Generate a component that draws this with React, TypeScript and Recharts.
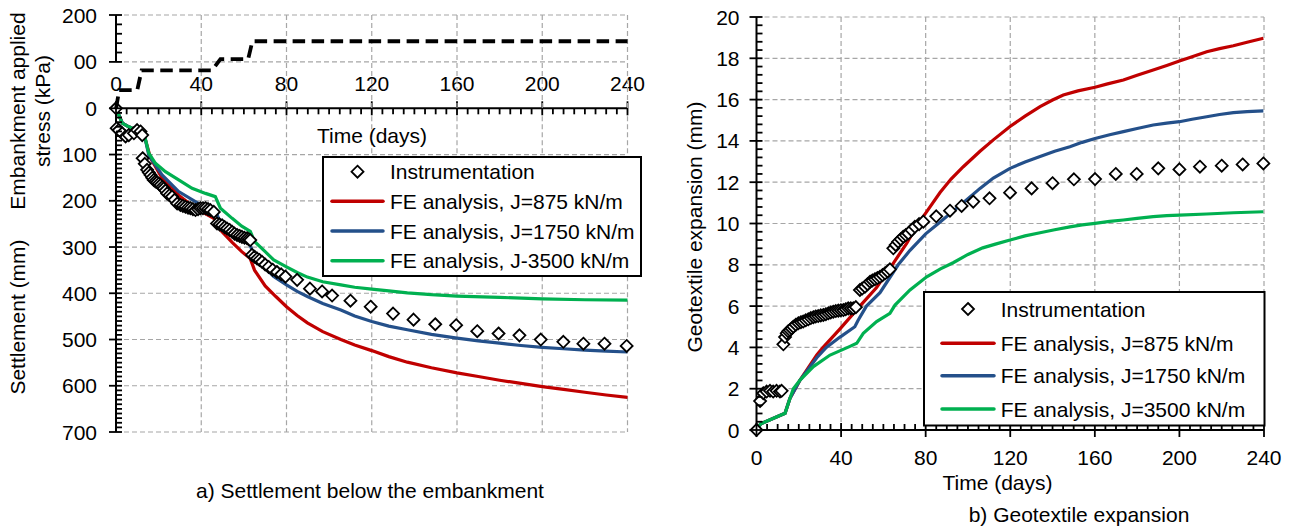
import { LineChart, Line, XAxis, YAxis, CartesianGrid, ReferenceLine } from "recharts";

const FONT = "'Liberation Sans', Arial, Helvetica, sans-serif";
const RED = "#C00000";
const BLUE = "#24508A";
const GREEN = "#00B050";
const GRID = "#A6A6A6";

// ---- time axis (both panels)
const timeMajor = [0, 40, 80, 120, 160, 200, 240];
const timeGrid = [40, 80, 120, 160, 200, 240];

// ---- a) settlement (t days, settlement mm)
const settleMajor = [0, 100, 200, 300, 400, 500, 600, 700];
const settleGrid = [100, 200, 300, 400, 500, 600, 700];
const stressMajor = [100, 200];
const stressLabels = ["00", "200"];

const stressApplied = [
  [0, 0], [1.5, 40], [10, 40], [12, 82], [45, 82], [49, 106], [62, 106], [64, 144], [240, 144],
];

const settleInstr = [
  [0, 0], [0.3, 43], [1.3, 47], [2.9, 54], [4.5, 61], [6, 58], [8.4, 54], [9.9, 47], [11.5, 50], [12.3, 58],
  [12.5, 108], [13.5, 120], [14.6, 133], [15.4, 139], [16.2, 144], [17, 150], [17.7, 155], [18.5, 158],
  [19.3, 160], [20.1, 163], [20.9, 166], [21.7, 170], [22.4, 173], [23.2, 178], [24, 184], [25.1, 188],
  [26.3, 191], [27.5, 198], [28.7, 206], [30.2, 209], [31.4, 211], [32.6, 213], [33.8, 215], [34.9, 216],
  [36.1, 218], [37.3, 220], [38.5, 218], [39.6, 216], [40.8, 216], [42, 216], [43.2, 218], [44.3, 220],
  [45.9, 224], [47.4, 249], [48.6, 251], [49.8, 253], [51, 257], [52.1, 260], [53.3, 263], [54.5, 267],
  [55.6, 271], [56.8, 274], [58, 276], [59.1, 278], [60.3, 280], [61.5, 281], [62.3, 283], [63, 285],
  [63.8, 317], [65, 321], [66.2, 325], [67.3, 328], [68.5, 332], [70, 338], [71.6, 343], [73.5, 349],
  [75.5, 354], [77.5, 359], [79.5, 364], [85, 371], [91, 390], [96.7, 396], [101.4, 405], [110, 416],
  [119.5, 429], [130, 444], [139.6, 457], [149.8, 467], [159.6, 469], [169.5, 482], [179.5, 487],
  [189.3, 491], [199.3, 500], [209.9, 505], [219.3, 509], [229.2, 509], [239.6, 514],
];
const settleJ875 = [
  [0, 0], [3, 32], [6, 40], [10.7, 50], [13.5, 63], [16.2, 108], [21.6, 151], [29.4, 188], [37.3, 216],
  [45.9, 238], [49, 263], [54.5, 290], [59, 310], [63, 325], [65, 350], [70, 384], [75, 407], [80, 429],
  [85, 448], [89.8, 464], [97, 483], [105.5, 500], [112, 512], [120, 524], [128, 537], [136.7, 549],
  [148, 561], [160, 572], [170, 580], [180, 588], [190, 595], [200, 602], [210, 608], [220, 614],
  [230, 620], [240, 625],
];
const settleJ1750 = [
  [0, 0], [3, 32], [6, 40], [10.7, 50], [13.5, 62], [15.4, 102], [21.6, 144], [29.4, 180], [38.8, 206],
  [46.6, 220], [49, 249], [56, 276], [59, 284], [62.5, 292], [65, 318], [70, 345], [74, 364], [80, 382],
  [85, 396], [89.8, 407], [97, 422], [105.5, 436], [112, 449], [120, 461], [128, 471], [136.7, 479],
  [148, 489], [160, 497], [170, 503], [180, 508], [190, 513], [200, 517], [210, 520], [220, 523],
  [230, 525], [240, 527],
];
const settleJ3500 = [
  [0, 0], [2.9, 32], [6, 40], [10.7, 50], [13.5, 61], [15.4, 97], [18.5, 119], [23.2, 137], [29.4, 155],
  [35.7, 173], [42, 184], [46.6, 191], [49, 216], [54.5, 238], [59, 255], [63, 266], [65, 288], [70, 310],
  [74, 328], [80, 343], [85, 355], [89.8, 365], [97, 375], [105.5, 382], [112, 387], [120, 391],
  [128, 395], [136.7, 399], [148, 403], [160, 406], [180, 409], [200, 412], [220, 414], [240, 415],
];
const settleNames = [
  "Instrumentation",
  "FE analysis, J=875 kN/m",
  "FE analysis, J=1750 kN/m",
  "FE analysis, J-3500 kN/m",
];

// ---- b) geotextile expansion (t days, mm)
const expMajor = [0, 2, 4, 6, 8, 10, 12, 14, 16, 18, 20];
const expGrid = [2, 4, 6, 8, 10, 12, 14, 16, 18, 20];

const expInstr = [
  [0, 0], [1.7, 1.4], [3.2, 1.78], [4.8, 1.86], [6.4, 1.9], [7.9, 1.86], [9.5, 1.9], [11.1, 1.86], [11.9, 1.9],
  [12.7, 4.15], [13.5, 4.5], [14.3, 4.68], [15, 4.78], [15.8, 4.84], [16.6, 4.92], [17.4, 5], [18.6, 5.1],
  [19.8, 5.17], [21, 5.22], [22.1, 5.25], [23.3, 5.31], [24.5, 5.36], [25.7, 5.42], [26.9, 5.46], [28, 5.5],
  [29.2, 5.52], [30.4, 5.55], [31.6, 5.57], [32.8, 5.61], [34, 5.65], [35.1, 5.69], [36.3, 5.73], [37.5, 5.76],
  [38.7, 5.78], [39.9, 5.8], [41.1, 5.81], [42.2, 5.85], [43.4, 5.89], [44.6, 5.89], [45.8, 5.89], [47, 5.95],
  [48.9, 6.78], [50, 6.85], [51.3, 6.94], [52.5, 7.06], [53.7, 7.18], [54.8, 7.24], [56, 7.3], [57.2, 7.36],
  [58.4, 7.42], [59.6, 7.5], [60.8, 7.59], [62, 7.68], [63.1, 7.78], [64.7, 8.8], [65.8, 8.96], [67, 9.12],
  [68.2, 9.24], [69.4, 9.36], [70.6, 9.44], [71.8, 9.52], [73.3, 9.68], [74.9, 9.84], [76.9, 9.97],
  [78.9, 10.09], [85, 10.35], [91.5, 10.62], [97, 10.85], [102.5, 11.06], [110.2, 11.22], [119.9, 11.49],
  [130.1, 11.7], [140, 11.95], [150.1, 12.14], [160.1, 12.15], [169.9, 12.4], [179.8, 12.4], [190, 12.67],
  [200, 12.62], [209.7, 12.75], [220, 12.8], [229.9, 12.86], [239.7, 12.91],
];
const expJ875 = [
  [0, 0], [2, 0.3], [13.5, 0.81], [15.8, 1.53], [20.6, 2.42], [28.5, 3.63], [31.5, 4], [39.5, 4.9], [48.9, 6],
  [56.8, 6.9], [64.2, 8], [71, 9.04], [76.5, 10], [80, 10.5], [86.8, 11.5], [92, 12.15], [97.8, 12.75],
  [105.7, 13.5], [112, 14.05], [119.9, 14.7], [127, 15.2], [134.1, 15.66], [140, 15.98], [145.1, 16.22],
  [152, 16.42], [160.1, 16.6], [166, 16.76], [173.5, 16.95], [180, 17.18], [187.6, 17.43], [194, 17.65],
  [200, 17.87], [206, 18.08], [212.9, 18.32], [219, 18.47], [225.5, 18.61], [232, 18.78], [239.7, 18.97],
];
const expJ1750 = [
  [0, 0], [2, 0.3], [13.5, 0.81], [15.8, 1.53], [20.6, 2.42], [28.5, 3.5], [33, 4], [39.5, 4.5], [46.5, 5],
  [48, 5.3], [52, 6], [58.4, 6.65], [67, 8], [72.6, 8.7], [80, 9.5], [86, 10], [93, 10.6], [100, 11.2],
  [105.7, 11.7], [112, 12.2], [119.9, 12.67], [127, 12.98], [134.1, 13.24], [141, 13.5], [148.2, 13.72],
  [154, 13.93], [160.1, 14.12], [167, 14.3], [173.5, 14.45], [180, 14.6], [187.6, 14.77], [194, 14.86],
  [200, 14.93], [206, 15.05], [212.9, 15.17], [219, 15.28], [225.5, 15.37], [232, 15.42], [239.7, 15.45],
];
const expJ3500 = [
  [0, 0], [2, 0.3], [13.5, 0.81], [15.8, 1.53], [17.4, 2], [20.6, 2.42], [26.9, 3.07], [34.8, 3.63],
  [44.2, 4.05], [47.4, 4.2], [50.5, 4.68], [56.8, 5.25], [63.1, 5.65], [65.5, 6.05], [72.6, 6.78],
  [80.5, 7.42], [87, 7.8], [93, 8.1], [100, 8.5], [107, 8.82], [113, 9.0], [119.9, 9.2], [127, 9.4],
  [134.1, 9.55], [141, 9.7], [148.2, 9.84], [154, 9.93], [160.1, 10.01], [167, 10.1], [173.5, 10.17],
  [180, 10.25], [187.6, 10.33], [194, 10.38], [200, 10.41], [212.9, 10.46], [225.5, 10.52], [239.7, 10.57],
];
const expNames = [
  "Instrumentation",
  "FE analysis, J=875 kN/m",
  "FE analysis, J=1750 kN/m",
  "FE analysis, J=3500 kN/m",
];

const lineColors = [RED, BLUE, GREEN];

const pts = (rows: number[][]) => rows.map(([t, v]) => ({ t, v }));
const steps = (from: number, to: number, step: number) => {
  const out: number[] = [];
  const n = Math.round((to - from) / step);
  for (let i = 0; i <= n; i++) out.push(Math.round((from + i * step) * 1000) / 1000);
  return out;
};
const isMajor = (majors: number[], v: number) => majors.some((m) => Math.abs(m - v) < 1e-6);

const txt = { fontFamily: FONT, fontSize: 21, fill: "#000" };

const yTick = (majors: number[], label: (v: number) => string, gap: number) => (p: any) => {
  const { x, y, payload } = p;
  const major = isMajor(majors, payload.value);
  return (
    <g>
      <line x1={major ? x - 7 : x} x2={x + 6} y1={y} y2={y} stroke="#000" strokeWidth={1.8} />
      {major && (
        <text x={x - gap} y={y} textAnchor="end" dominantBaseline="central" {...txt}>
          {label(payload.value)}
        </text>
      )}
    </g>
  );
};

const xTick = (top: boolean, labelDy: number) => (p: any) => {
  const { x, y, payload } = p;
  const major = isMajor(timeMajor, payload.value);
  const inner = top ? 6 : -6;
  return (
    <g>
      <line x1={x} x2={x} y1={major ? y - 7 : y} y2={major ? y + 7 : y + inner} stroke="#000" strokeWidth={1.8} />
      {major && (
        <text x={x} y={y + labelDy} textAnchor="middle" dominantBaseline="central" {...txt}>
          {payload.value}
        </text>
      )}
    </g>
  );
};

const diamond = (p: any) => {
  const { cx, cy, index } = p;
  if (cx == null || cy == null) return <g key={`n${index}`} />;
  const r = 6;
  return (
    <path
      key={`d${index}`}
      d={`M${cx},${cy - r}L${cx + r},${cy}L${cx},${cy + r}L${cx - r},${cy}Z`}
      fill="#fff"
      stroke="#000"
      strokeWidth={1.8}
    />
  );
};

const axisLine = { stroke: "#000", strokeWidth: 2 };

function LegendBox(props: {
  x: number; y: number; w: number; h: number; rows: number[];
  sx1: number; sx2: number; tx: number; names: string[];
}) {
  const { x, y, w, h, rows, sx1, sx2, tx, names } = props;
  const mid = (sx1 + sx2) / 2;
  return (
    <g>
      <rect x={x} y={y} width={w} height={h} fill="#fff" stroke="#000" strokeWidth={2} />
      {names.map((n, i) => (
        <g key={n}>
          {i === 0 ? (
            <path
              d={`M${mid},${rows[i] - 6}L${mid + 6},${rows[i]}L${mid},${rows[i] + 6}L${mid - 6},${rows[i]}Z`}
              fill="#fff"
              stroke="#000"
              strokeWidth={1.8}
            />
          ) : (
            <line x1={sx1} x2={sx2} y1={rows[i]} y2={rows[i]} stroke={lineColors[i - 1]} strokeWidth={3.5} strokeLinecap="round" />
          )}
          <text x={tx} y={rows[i]} dominantBaseline="central" {...txt}>
            {n}
          </text>
        </g>
      ))}
    </g>
  );
}

export default function App() {
  const timeTicks = steps(0, 240, 5);
  const settleTicks = steps(0, 700, 10);
  const stressTicks = steps(100, 200, 20);
  const expTicks = steps(0, 20, 0.4);
  const settleSeries = [settleJ875, settleJ1750, settleJ3500];
  const expSeries = [expJ875, expJ1750, expJ3500];

  return (
    <div style={{ position: "absolute", left: 0, top: 0, width: 1293, height: 531, background: "#fff", fontFamily: FONT }}>
      {/* a) settlement */}
      <div style={{ position: "absolute", left: 0, top: 0 }}>
        <LineChart width={660} height={531} margin={{ top: 78.3, right: 32.5, bottom: 99, left: 56 }}>
          <CartesianGrid stroke={GRID} strokeDasharray="5 3" strokeWidth={1.2} horizontalValues={settleGrid} verticalValues={timeGrid} />
          <XAxis type="number" dataKey="t" domain={[0, 240]} ticks={timeTicks} interval={0} orientation="top" height={30}
            tickSize={0} tickMargin={0} tickLine={false} axisLine={axisLine} tick={xTick(true, -24.6)} />
          <YAxis type="number" domain={[0, 700]} reversed ticks={settleTicks} interval={0} width={60}
            tickSize={0} tickMargin={0} tickLine={false} axisLine={axisLine} tick={yTick(settleMajor, (v) => String(v), 19)} />
          <Line data={pts(settleInstr)} dataKey="v" stroke="none" dot={diamond} isAnimationActive={false} />
          {settleSeries.map((s, i) => (
            <Line key={i} data={pts(s)} dataKey="v" stroke={lineColors[i]} strokeWidth={3.2} dot={false} isAnimationActive={false} />
          ))}
        </LineChart>
      </div>
      {/* applied stress, overlaid */}
      <div style={{ position: "absolute", left: 0, top: 0, pointerEvents: "none" }}>
        <LineChart width={660} height={531} margin={{ top: 15, right: 32.5, bottom: 422.2, left: 56 }}>
          <CartesianGrid stroke={GRID} strokeDasharray="5 3" strokeWidth={1.2} horizontalValues={stressMajor} verticalValues={timeGrid} />
          <XAxis type="number" dataKey="t" domain={[0, 240]} hide />
          <YAxis type="number" domain={[0, 200]} ticks={stressTicks} interval={0} width={60}
            tickSize={0} tickMargin={0} tickLine={false} axisLine={false}
            tick={yTick(stressMajor, (v) => stressLabels[stressMajor.indexOf(v)], 19)} />
          <ReferenceLine segment={[{ x: 0, y: 100 }, { x: 0, y: 200 }]} stroke="#000" strokeWidth={2} />
          <Line data={pts(stressApplied)} dataKey="v" stroke="#000" strokeWidth={3.8} strokeDasharray="12.5 6.5"
            dot={false} isAnimationActive={false} />
        </LineChart>
      </div>

      {/* b) geotextile expansion */}
      <div style={{ position: "absolute", left: 640, top: 0 }}>
        <LineChart width={653} height={531} margin={{ top: 17, right: 29, bottom: 71, left: 56.5 }}>
          <CartesianGrid stroke={GRID} strokeDasharray="5 3" strokeWidth={1.2} horizontalValues={expGrid} verticalValues={timeGrid} />
          <XAxis type="number" dataKey="t" domain={[0, 240]} ticks={timeTicks} interval={0} height={30}
            tickSize={0} tickMargin={0} tickLine={false} axisLine={axisLine} tick={xTick(false, 27)} />
          <YAxis type="number" domain={[0, 20]} ticks={expTicks} interval={0} width={60}
            tickSize={0} tickMargin={0} tickLine={false} axisLine={axisLine} tick={yTick(expMajor, (v) => String(v), 17)} />
          <Line data={pts(expInstr)} dataKey="v" stroke="none" dot={diamond} isAnimationActive={false} />
          {expSeries.map((s, i) => (
            <Line key={i} data={pts(s)} dataKey="v" stroke={lineColors[i]} strokeWidth={3.2} dot={false} isAnimationActive={false} />
          ))}
        </LineChart>
      </div>

      <svg width={1293} height={531} style={{ position: "absolute", left: 0, top: 0, pointerEvents: "none" }}>
        <text transform="translate(17.7,111) rotate(-90)" textAnchor="middle" dominantBaseline="central" {...txt}>
          Embankment applied
        </text>
        <text transform="translate(42.7,111) rotate(-90)" textAnchor="middle" dominantBaseline="central" {...txt}>
          stress (kPa)
        </text>
        <text transform="translate(17.7,317) rotate(-90)" textAnchor="middle" dominantBaseline="central" {...txt}>
          Settlement (mm)
        </text>
        <text x={372} y={135.7} textAnchor="middle" dominantBaseline="central" {...txt}>
          Time (days)
        </text>
        <text x={370} y={490} textAnchor="middle" dominantBaseline="central" {...txt}>
          a) Settlement below the embankment
        </text>
        <text transform="translate(694.7,227) rotate(-90)" textAnchor="middle" dominantBaseline="central" {...txt}>
          Geotextile expansion (mm)
        </text>
        <text x={997.5} y={482.7} textAnchor="middle" dominantBaseline="central" {...txt}>
          Time (days)
        </text>
        <text x={1079} y={514.7} textAnchor="middle" dominantBaseline="central" {...txt}>
          b) Geotextile expansion
        </text>
        <LegendBox x={323} y={157} w={318} h={119} rows={[171.7, 201.3, 231, 260.7]} sx1={332} sx2={383} tx={390} names={settleNames} />
        <LegendBox x={924} y={292} w={340.5} h={133.5} rows={[309, 343.3, 375.7, 409]} sx1={942} sx2={994} tx={1000.7} names={expNames} />
      </svg>
    </div>
  );
}
